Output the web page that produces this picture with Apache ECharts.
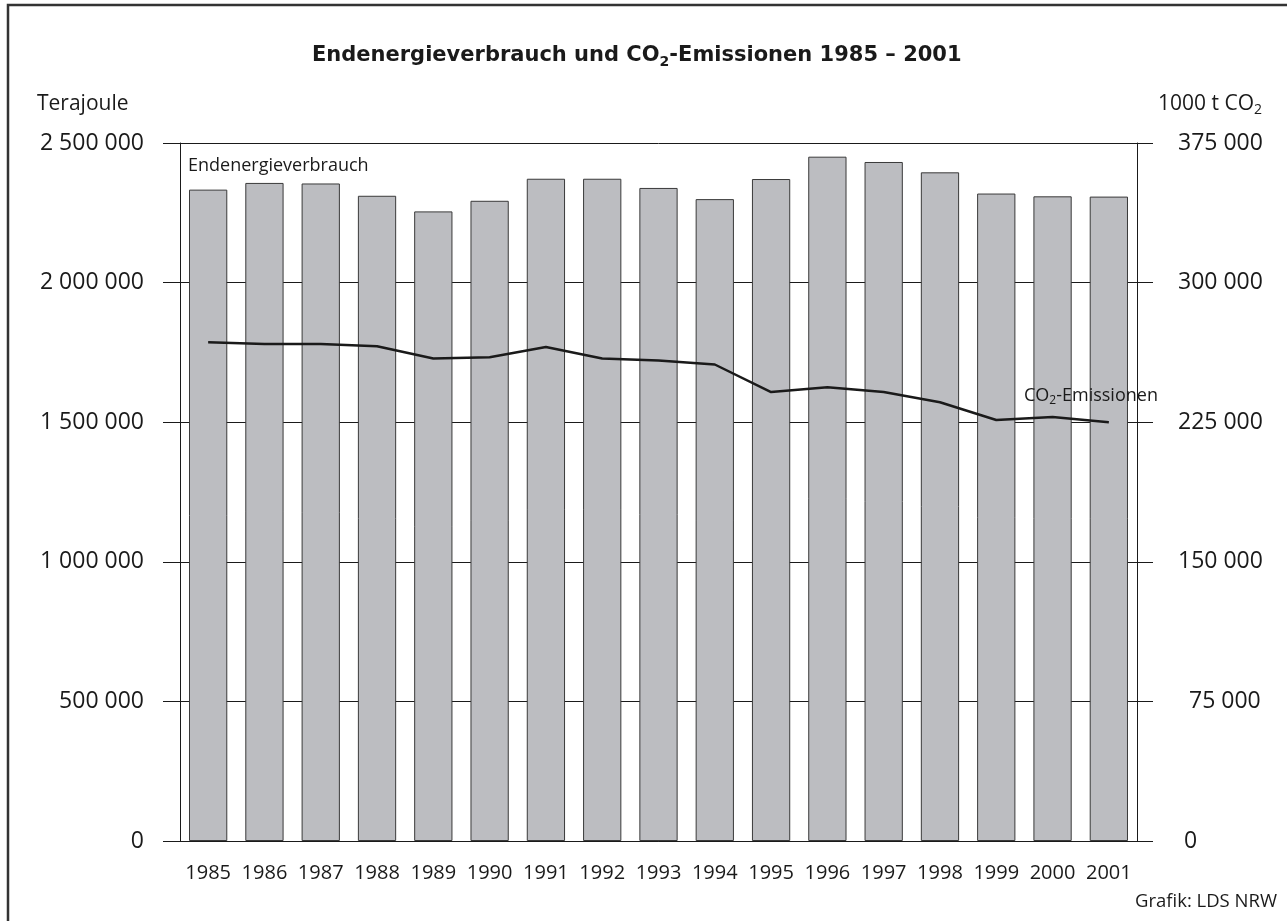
<!DOCTYPE html>
<html><head><meta charset="utf-8">
<script src="https://cdn.jsdelivr.net/npm/echarts@6/dist/echarts.min.js"></script>
<style>html,body{margin:0;padding:0;background:#fff}#c{width:1287px;height:921px}</style>
</head><body><div id="c"></div>
<script>
const years = ['1985','1986','1987','1988','1989','1990','1991','1992','1993','1994','1995','1996','1997','1998','1999','2000','2001'];
// Endenergieverbrauch, Terajoule
const energyTJ = [2333000, 2357000, 2355000, 2311000, 2255000, 2293000, 2372000, 2372000, 2339000, 2299000, 2371000, 2451000, 2432000, 2395000, 2319000, 2309000, 2308000];
// CO2-Emissionen, 1000 t CO2
const co2kt = [268000, 267000, 267000, 265800, 259200, 259900, 265400, 259200, 258200, 256000, 241200, 243800, 241200, 235700, 226200, 227800, 225000];

const FONT = "'Open Sans', sans-serif";
const INK = '#1a1a1a';
function fmt(v){ return String(v).replace(/\B(?=(\d{3})+(?!\d))/g, ' '); }

const chart = echarts.init(document.getElementById('c'), null, {renderer:'canvas'});
chart.setOption({
  backgroundColor: '#fff',
  animation: false,
  grid: {left: 180, right: 150, top: 143, bottom: 80, containLabel: false},
  xAxis: {
    type: 'category', data: years,
    axisLine: {lineStyle: {color: INK, width: 1}},
    axisTick: {show: false},
    axisLabel: {color: INK, fontFamily: FONT, fontSize: 20, margin: 22, interval: 0}
  },
  yAxis: [
    {
      type: 'value', min: 0, max: 2500000, interval: 500000,
      axisLine: {show: true, lineStyle: {color: INK, width: 1}},
      axisTick: {show: true, length: 17, lineStyle: {color: INK, width: 1}},
      splitLine: {show: true, lineStyle: {color: INK, width: 1}},
      axisLabel: {color: INK, fontFamily: FONT, fontSize: 23, margin: 36, formatter: fmt}
    },
    {
      type: 'value', min: 0, max: 375000, interval: 75000, position: 'right',
      axisLine: {show: true, lineStyle: {color: INK, width: 1}},
      axisTick: {show: true, length: 16, lineStyle: {color: INK, width: 1}},
      splitLine: {show: false},
      axisLabel: {
        color: INK, fontFamily: FONT, fontSize: 23, margin: 41,
        formatter: function(v){
          if (v === 0) return '{z|0}';
          if (v === 75000) return '{s|' + fmt(v) + '}';
          return '{n|' + fmt(v) + '}';
        },
        rich: {
          n: {color: INK, fontFamily: FONT, fontSize: 23},
          s: {color: INK, fontFamily: FONT, fontSize: 23, padding: [0,0,0,11]},
          z: {color: INK, fontFamily: FONT, fontSize: 23, padding: [0,0,0,6]}
        }
      }
    }
  ],
  series: [
    {
      name: 'Endenergieverbrauch', type: 'bar', data: energyTJ, yAxisIndex: 0,
      barCategoryGap: '32%',
      itemStyle: {color: '#bcbdc1', borderColor: '#3a3a3a', borderWidth: 1}
    },
    {
      name: 'CO2-Emissionen', type: 'line', data: co2kt, yAxisIndex: 1,
      symbol: 'none', lineStyle: {color: INK, width: 2.5}, z: 3
    }
  ],
  graphic: [
    {type: 'rect', shape: {x: 8, y: 5, width: 1300, height: 1000}, style: {fill: 'none', stroke: '#333', lineWidth: 2.5}, z: 100},
    {type: 'text', z: 100, x: 312, y: 56, style: {
      text: '{b|Endenergieverbrauch und CO}{s|2}{b|-Emissionen 1985 – 2001}',
      align: 'left', verticalAlign: 'middle',
      rich: {
        b: {fontFamily: "'DejaVu Sans', sans-serif", fontWeight: 'bold', fontSize: 21, lineHeight: 26, fill: INK, color: INK},
        s: {fontFamily: "'DejaVu Sans', sans-serif", fontWeight: 'bold', fontSize: 14, lineHeight: 14, verticalAlign: 'bottom', fill: INK, color: INK}
      }
    }},
    {type: 'text', z: 100, x: 37, y: 104, style: {text: 'Terajoule', fontFamily: FONT, fontSize: 21, fill: INK, align: 'left', verticalAlign: 'middle'}},
    {type: 'text', z: 100, x: 1262, y: 104, style: {
      text: '{n|1000 t CO}{s|2}', align: 'right', verticalAlign: 'middle',
      rich: {
        n: {fontFamily: FONT, fontSize: 21, lineHeight: 26, fill: INK, color: INK},
        s: {fontFamily: FONT, fontSize: 14, lineHeight: 14, verticalAlign: 'bottom', fill: INK, color: INK}
      }
    }},
    {type: 'text', z: 100, x: 188, y: 166, style: {text: 'Endenergieverbrauch', fontFamily: FONT, fontSize: 18, fill: INK, align: 'left', verticalAlign: 'middle'}},
    {type: 'text', z: 100, x: 1024, y: 396, style: {
      text: '{n|CO}{s|2}{n|-Emissionen}', align: 'left', verticalAlign: 'middle',
      rich: {
        n: {fontFamily: FONT, fontSize: 18, lineHeight: 22, fill: INK, color: INK},
        s: {fontFamily: FONT, fontSize: 12, lineHeight: 12, verticalAlign: 'bottom', fill: INK, color: INK}
      }
    }},
    {type: 'text', z: 100, x: 1277, y: 902, style: {text: 'Grafik: LDS NRW', fontFamily: FONT, fontSize: 18.5, fill: INK, align: 'right', verticalAlign: 'middle'}}
  ]
});
</script>
</body></html>
